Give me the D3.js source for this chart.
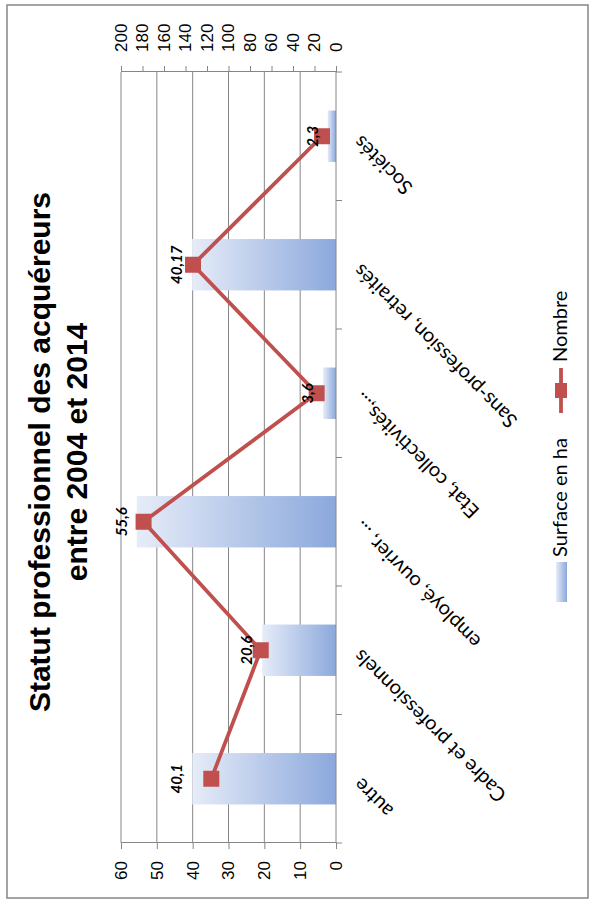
<!DOCTYPE html>
<html>
<head>
<meta charset="utf-8">
<script src="https://cdn.jsdelivr.net/npm/d3@7"></script>
<style>
  body { margin: 0; background: #fff; }
  .tick line { stroke: #868686; }
  .domain { stroke: #868686; }
</style>
</head>
<body>
<svg></svg>
<script>
var width = 591;
var height = 915;

// chart values
var categories = ["autre", "Cadre et professionnels", "employé, ouvrier, ...",
                  "Etat, collectivités,...", "Sans-profession, retraités", "Sociétés"];
var surface = [40.1, 20.6, 55.6, 3.6, 40.17, 2.3];     // Surface en ha (left axis)
var nombre = [116, 70, 179, 18, 133, 13];               // Nombre (right axis)
var leftTicks = [0, 10, 20, 30, 40, 50, 60];
var rightTicks = [0, 20, 40, 60, 80, 100, 120, 140, 160, 180, 200];

// the excel chart is turned a quarter turn: draw it flat (915 wide, 591 high) then rotate
var W = height, H = width;
var plot = { left: 72, right: 843, top: 121, bottom: 336 };

var svg = d3.select("svg")
            .attr("width", width)
            .attr("height", height);

var defs = svg.append("defs");
var grad = defs.append("linearGradient")
               .attr("id", "barGrad")
               .attr("x1", 0).attr("y1", 0)
               .attr("x2", 0).attr("y2", 1);
grad.append("stop").attr("offset", "0%").attr("stop-color", "#e6ecf8");
grad.append("stop").attr("offset", "100%").attr("stop-color", "#8ba8dc");

var g = svg.append("g")
           .attr("transform", "translate(0," + height + ") rotate(-90)");

// frame
g.append("rect")
  .attr("x", 17).attr("y", 7)
  .attr("width", 893).attr("height", 581)
  .attr("fill", "none")
  .attr("stroke", "#868686")
  .attr("stroke-width", 1.5);

var scaleX = d3.scaleBand()
               .domain(categories)
               .range([plot.left, plot.right])
               .paddingInner(0.6)
               .paddingOuter(0.3);

var scaleY = d3.scaleLinear()
               .domain([0, 60])
               .range([plot.bottom, plot.top]);

var scaleY2 = d3.scaleLinear()
                .domain([0, 200])
                .range([plot.bottom, plot.top]);

var step = scaleX.step();
function center(c) { return scaleX(c) + scaleX.bandwidth() / 2; }

// gridlines
g.append("g")
  .selectAll("line")
  .data(leftTicks.slice(1))
  .enter()
  .append("line")
  .attr("x1", plot.left).attr("x2", plot.right)
  .attr("y1", function(d) { return scaleY(d); })
  .attr("y2", function(d) { return scaleY(d); })
  .attr("stroke", "#868686")
  .attr("stroke-width", 1);

// bars
g.append("g")
  .selectAll("rect")
  .data(surface)
  .enter()
  .append("rect")
  .attr("x", function(d, i) { return scaleX(categories[i]); })
  .attr("width", scaleX.bandwidth())
  .attr("y", function(d) { return scaleY(d); })
  .attr("height", function(d) { return scaleY(0) - scaleY(d); })
  .attr("fill", "url(#barGrad)");

// left axis
var yAxis = d3.axisLeft(scaleY)
              .tickValues(leftTicks)
              .tickSizeInner(6)
              .tickSizeOuter(0)
              .tickPadding(12);
g.append("g")
  .attr("class", "yAxis")
  .attr("transform", "translate(" + plot.left + ",0)")
  .call(yAxis)
  .call(function(a) {
    a.selectAll("text").attr("font-family", "Liberation Sans, Arial, sans-serif")
     .attr("font-size", 17).attr("fill", "#000");
  });

// right axis
var yAxis2 = d3.axisRight(scaleY2)
               .tickValues(rightTicks)
               .tickSizeInner(6)
               .tickSizeOuter(0)
               .tickPadding(14);
g.append("g")
  .attr("class", "yAxis2")
  .attr("transform", "translate(" + plot.right + ",0)")
  .call(yAxis2)
  .call(function(a) {
    a.selectAll("text").attr("font-family", "Liberation Sans, Arial, sans-serif")
     .attr("font-size", 17).attr("fill", "#000");
  });

// category axis
g.append("line")
  .attr("x1", plot.left).attr("x2", plot.right)
  .attr("y1", plot.bottom).attr("y2", plot.bottom)
  .attr("stroke", "#868686");

var boundaries = d3.range(categories.length + 1).map(function(i) {
  return plot.left + i * step;
});
g.append("g")
  .selectAll("line")
  .data(boundaries)
  .enter()
  .append("line")
  .attr("x1", function(d) { return d; })
  .attr("x2", function(d) { return d; })
  .attr("y1", plot.bottom).attr("y2", plot.bottom + 6)
  .attr("stroke", "#868686");

g.append("g")
  .selectAll("text")
  .data(categories)
  .enter()
  .append("text")
  .attr("transform", function(d) {
    return "translate(" + (center(d) - 8) + "," + (plot.bottom + 16) + ") rotate(-45)";
  })
  .attr("text-anchor", "end")
  .attr("dy", "0.7em")
  .attr("font-family", "Lato, sans-serif")
  .attr("font-size", 20)
  .attr("fill", "#000")
  .text(function(d) { return d; });

// line Nombre
var line = d3.line()
             .x(function(d, i) { return center(categories[i]); })
             .y(function(d) { return scaleY2(d); });

g.append("path")
  .datum(nombre)
  .attr("d", line)
  .attr("fill", "none")
  .attr("stroke", "#c0504d")
  .attr("stroke-width", 3.8);

var ms = 16;
g.append("g")
  .selectAll("rect")
  .data(nombre)
  .enter()
  .append("rect")
  .attr("x", function(d, i) { return center(categories[i]) - ms / 2; })
  .attr("y", function(d) { return scaleY2(d) - ms / 2; })
  .attr("width", ms).attr("height", ms)
  .attr("fill", "#c0504d");

// data labels of the bars
g.append("g")
  .selectAll("text")
  .data(surface)
  .enter()
  .append("text")
  .attr("x", function(d, i) { return center(categories[i]); })
  .attr("y", function(d) { return scaleY(d) - 10; })
  .attr("text-anchor", "middle")
  .attr("font-family", "Lato, sans-serif")
  .attr("font-size", 15)
  .attr("font-weight", "bold")
  .attr("font-style", "italic")
  .attr("fill", "#000")
  .text(function(d) { return String(d).replace(".", ","); });

// title
var title = g.append("text")
             .attr("text-anchor", "middle")
             .attr("font-family", "Liberation Sans, Arial, sans-serif")
             .attr("font-size", 30)
             .attr("font-weight", "bold")
             .attr("fill", "#000");
title.append("tspan").attr("x", 463).attr("y", 50).text("Statut professionnel des acquéreurs");
title.append("tspan").attr("x", 463).attr("y", 87).text("entre 2004 et 2014");

// legend
var legend = g.append("g").attr("font-family", "Lato, sans-serif").attr("font-size", 20);
legend.append("rect")
  .attr("x", 313).attr("y", 556)
  .attr("width", 40).attr("height", 11)
  .attr("fill", "url(#barGrad)");
legend.append("text").attr("x", 358).attr("y", 567).text("Surface en ha");

legend.append("line")
  .attr("x1", 502).attr("x2", 547)
  .attr("y1", 561).attr("y2", 561)
  .attr("stroke", "#c0504d").attr("stroke-width", 3.8);
legend.append("rect")
  .attr("x", 517).attr("y", 555)
  .attr("width", 15).attr("height", 12)
  .attr("fill", "#c0504d");
legend.append("text").attr("x", 553).attr("y", 567).text("Nombre");
</script>
</body>
</html>
